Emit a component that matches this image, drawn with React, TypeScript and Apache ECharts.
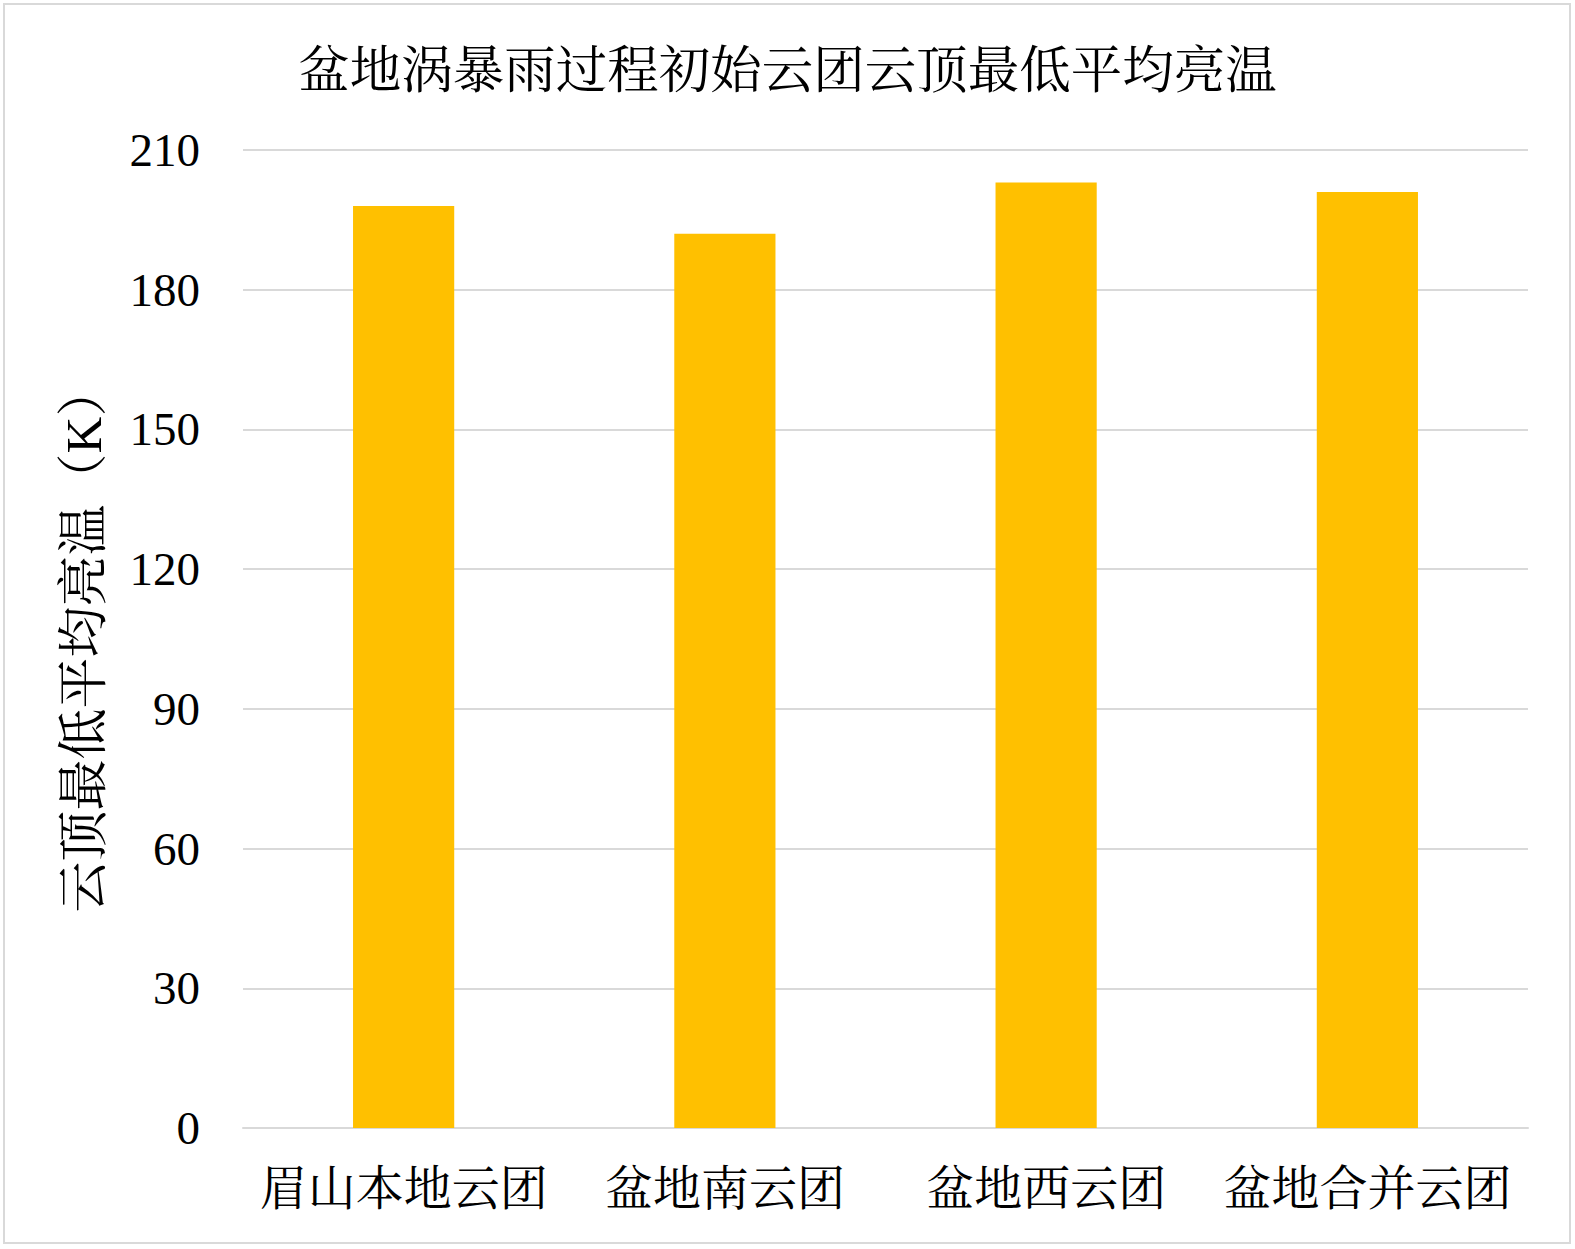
import React, { useEffect, useRef } from "react";
import * as echarts from "echarts";

const titleText = "盆地涡暴雨过程初始云团云顶最低平均亮温";
const yAxisName = "云顶最低平均亮温（K）";
const categories = ["眉山本地云团", "盆地南云团", "盆地西云团", "盆地合并云团"];
const values = [198, 192, 203, 201];
const yMin = 0;
const yMax = 210;
const yInterval = 30;

const FONT = "'Liberation Serif', 'Times New Roman', 'Noto Serif CJK SC', 'Noto Sans CJK SC', serif";

export default function App() {
  const ref = useRef<HTMLDivElement>(null);
  useEffect(() => {
    if (!ref.current) return;
    const chart = echarts.init(ref.current, undefined, { renderer: "svg" });
    chart.setOption({
      animation: false,
      backgroundColor: "#ffffff",
      title: {
        text: titleText,
        left: "center",
        top: 40,
        textStyle: { fontFamily: FONT, fontSize: 51.5, fontWeight: "normal", color: "#000" },
      },
      graphic: [
        {
          type: "rect",
          shape: { x: 4, y: 4, width: 1566, height: 1239 },
          style: { fill: "none", stroke: "#d9d9d9", lineWidth: 2 },
          silent: true,
        },
      ],
      grid: { left: 243, right: 47, top: 150, bottom: 121, containLabel: false },
      xAxis: {
        type: "category",
        data: categories,
        axisLine: { show: true, lineStyle: { color: "#d9d9d9", width: 2 } },
        axisTick: { show: false },
        axisLabel: { fontFamily: FONT, fontSize: 48, color: "#000", margin: 36, interval: 0 },
      },
      yAxis: {
        type: "value",
        min: yMin,
        max: yMax,
        interval: yInterval,
        name: yAxisName,
        nameLocation: "middle",
        nameGap: 134,
        nameRotate: 90,
        nameTextStyle: { fontFamily: FONT, fontSize: 51, color: "#000" },
        axisLine: { show: false },
        axisTick: { show: false },
        axisLabel: { fontFamily: FONT, fontSize: 47, color: "#000", margin: 43 },
        splitLine: { show: true, lineStyle: { color: "#d9d9d9", width: 2 } },
      },
      series: [
        {
          type: "bar",
          data: values,
          barWidth: "31.5%",
          itemStyle: { color: "#FFC000" },
        },
      ],
    });
    return () => chart.dispose();
  }, []);
  return (
    <div
      ref={ref}
      style={{ position: "fixed", left: 0, top: 0, width: 1575, height: 1249 }}
    />
  );
}
